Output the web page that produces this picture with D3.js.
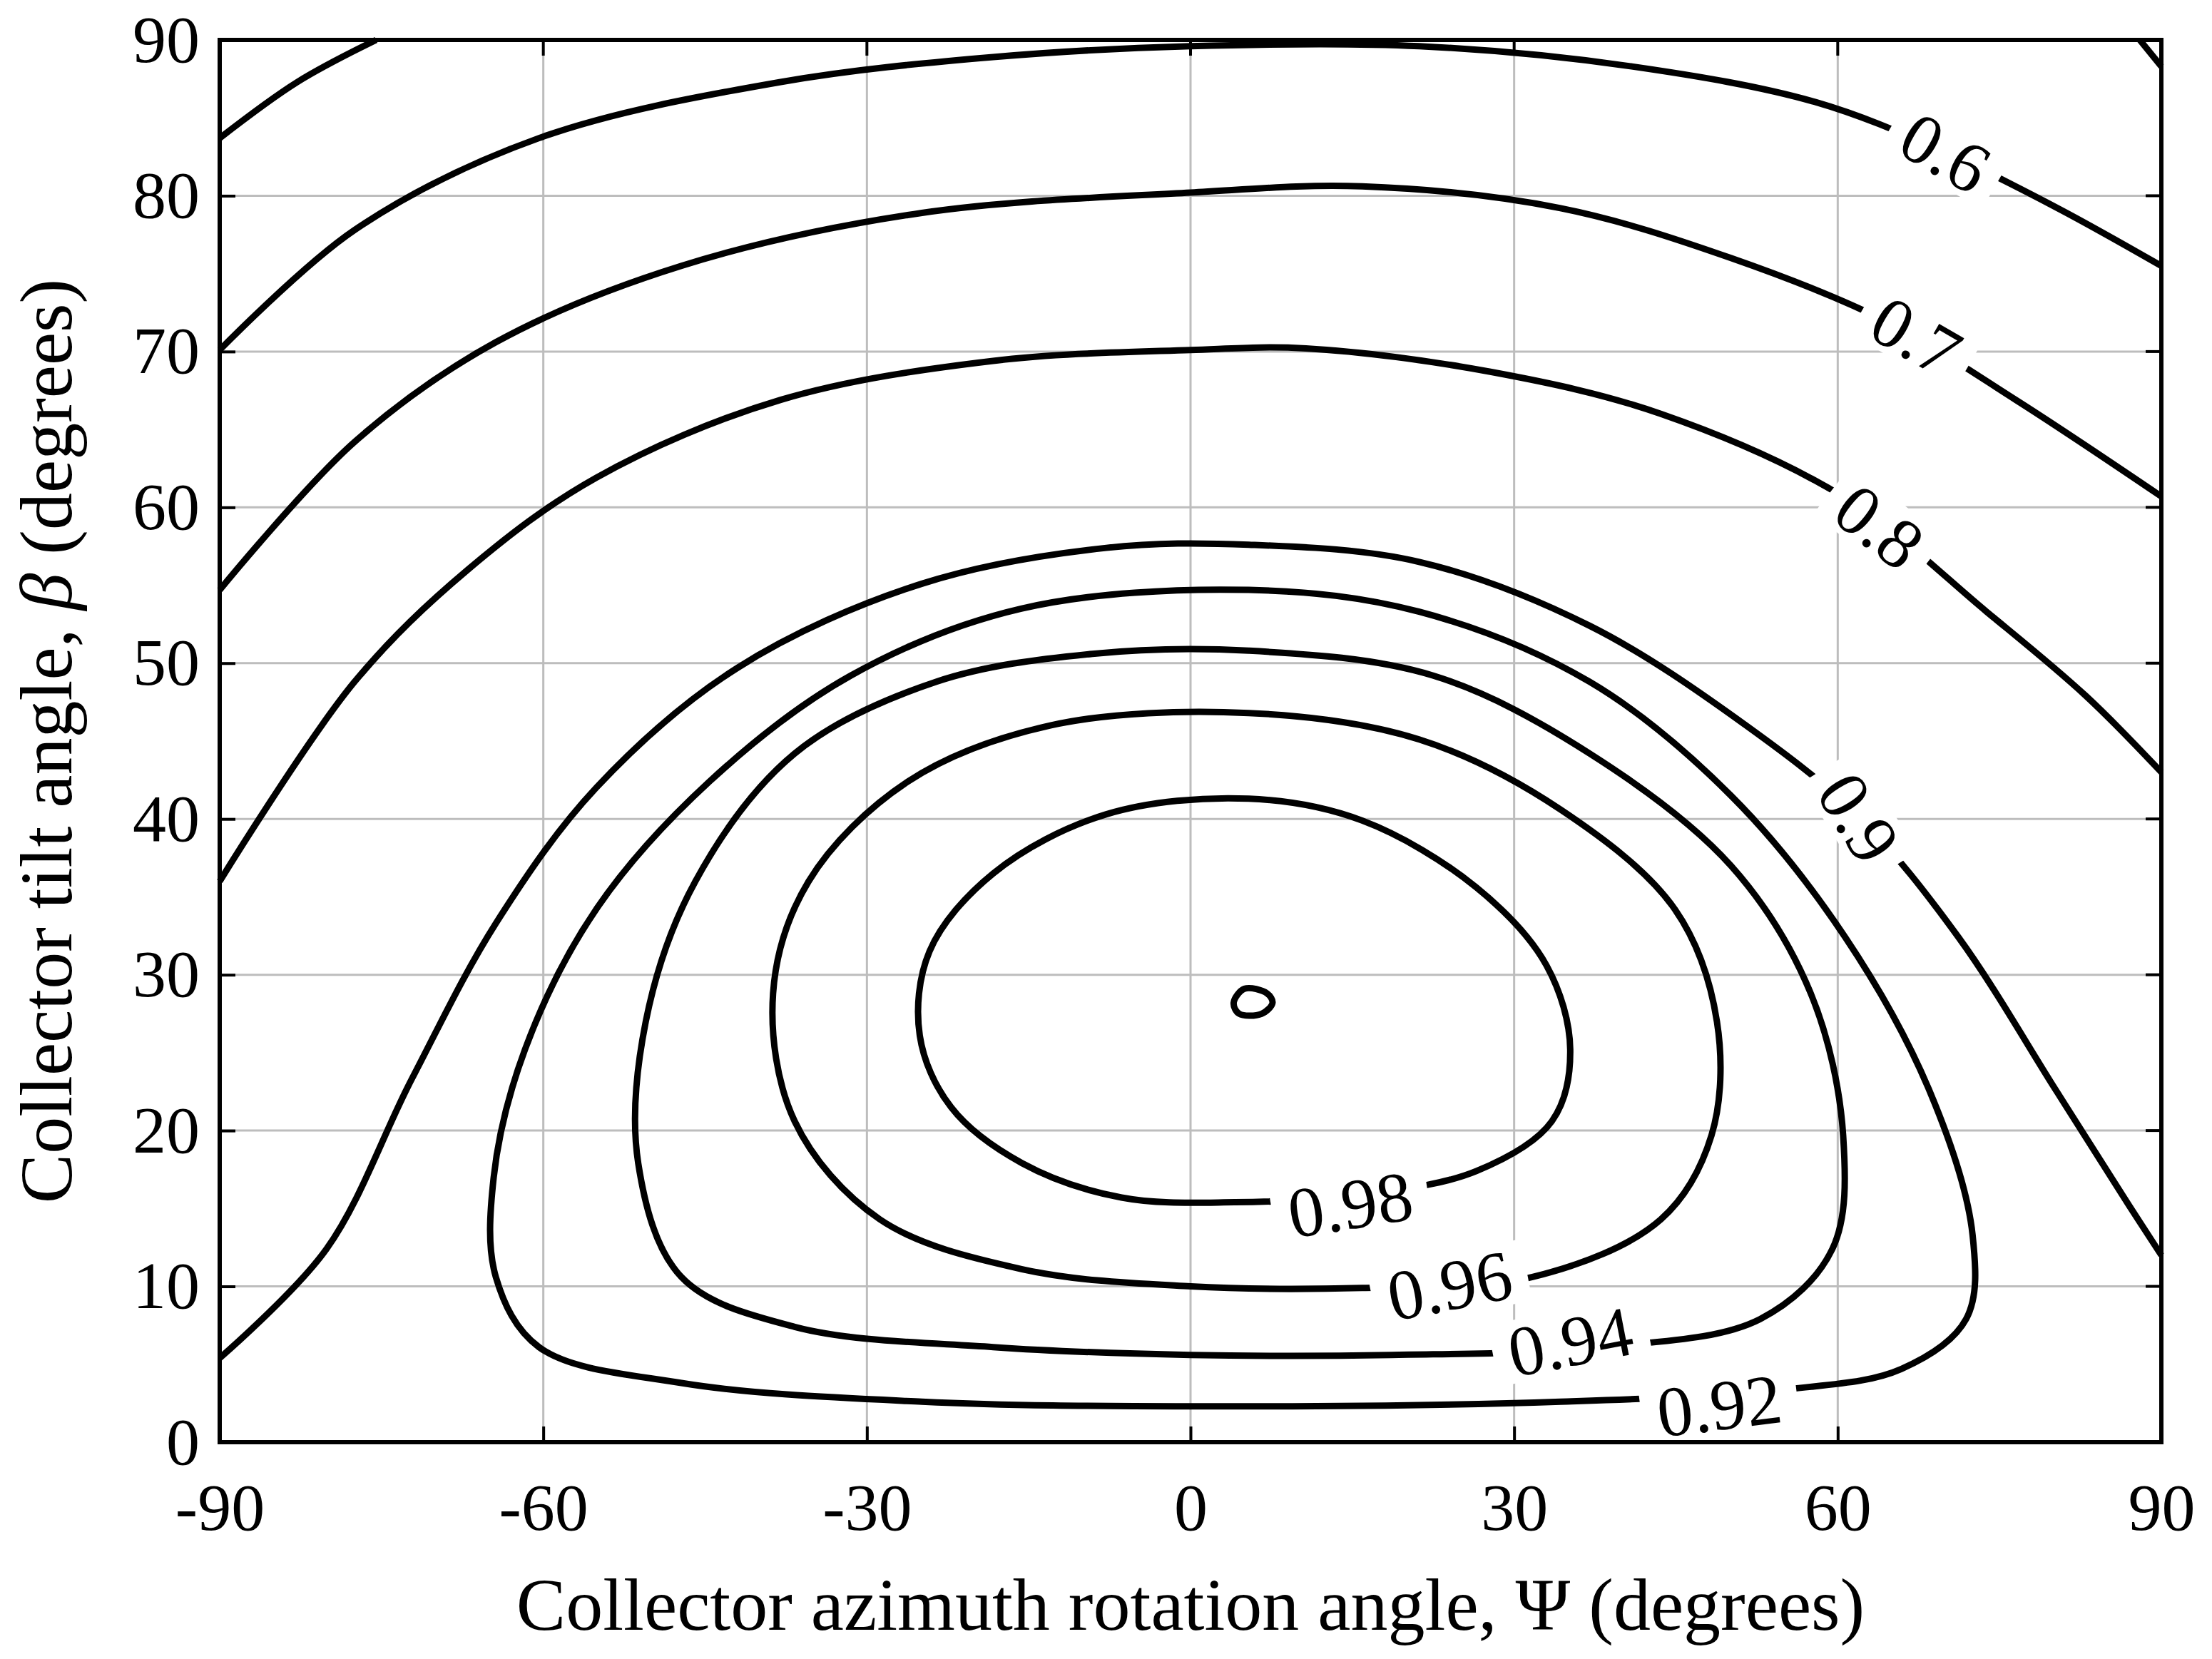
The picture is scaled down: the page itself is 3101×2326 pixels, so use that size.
<!DOCTYPE html>
<html>
<head>
<meta charset="utf-8">
<script src="https://cdn.jsdelivr.net/npm/d3@7"></script>
<style>
body { margin: 0; background: #fff; }
text { font-family: "Liberation Serif", "DejaVu Serif", serif; }
</style>
</head>
<body>
<svg id="chart" width="3101" height="2326"></svg>
<script>
"use strict"

var xTicks = [-90, -60, -30, 0, 30, 60, 90];
var yTicks = [0, 10, 20, 30, 40, 50, 60, 70, 80, 90];

// contour lines: [psi, beta]
var c06 = [[-90,70.1],[-77.5,77.8],[-60.4,83.7],[-38,87.3],[-18.3,88.9],[0,89.6],[21.2,89.6],[40.9,88.3],[58,86],[69.9,82.8],[80.4,79.2],[90,75.5]];
var c06b = [[-90,83.7],[-82.8,87.3],[-75.5,90]];
var c05 = [[88,90],[90,88.3]];
var c07 = [[-90,54.7],[-77.5,64.2],[-64.4,70.6],[-47.2,75.5],[-24.9,78.9],[0,80.2],[15.9,80.6],[34.3,79.2],[50.1,76],[64.6,71.9],[76.5,66.9],[90,60.7]];
var c08 = [[-90,36],[-77.5,48.8],[-67,56],[-55.1,61.9],[-38,66.9],[-18.3,69.4],[0,70.1],[10.7,70.2],[27.8,68.7],[43.6,66],[60.7,60.6],[73.8,53.3],[83,47.9],[90,43]];
var c09 = [[-90,5.4],[-80.1,12.4],[-72.2,23.3],[-64.4,33.3],[-55.1,42],[-42,49.7],[-24.9,55.1],[-7.8,57.4],[5.4,57.6],[21.2,56.5],[37,52.4],[51.5,46],[62,40.1],[71.2,32.4],[80.4,22.4],[87,15.2],[90,12]];
var c092 = [[5.4,54.7],[21.2,53.3],[37,48.8],[50.1,41.5],[60.7,32.4],[68.6,22.4],[72.5,13.3],[71.9,7.9],[65.9,4.7],[55.4,3.4],[34.3,2.6],[0,2.3],[-24.9,2.6],[-47.2,3.8],[-60.4,6.1],[-64.4,10.6],[-64.6,17],[-61.7,25.2],[-55.1,34.2],[-44.6,42.4],[-31.5,49.2],[-15.7,53.5]];
var c094 = [[5.4,50.8],[22.5,49.2],[37,44.2],[50.1,37],[57.5,28.8],[60.5,19.7],[59.5,12.4],[52.8,7.9],[38.3,6.1],[18.6,5.6],[0,5.6],[-18.3,6.1],[-36.7,7.4],[-47.2,10.6],[-51.2,17.9],[-50.5,27],[-45.9,36],[-36.7,44.2],[-23.6,48.8],[-9.1,50.6]];
var c096 = [[5.4,46.8],[21.2,45.1],[34.3,40.6],[44.9,34.2],[48.8,27],[48.3,19.7],[43.6,14.3],[31.7,10.6],[15.9,9.9],[0,10],[-15.6,11.1],[-28.8,14.3],[-36.7,20.6],[-38.7,28.8],[-35.4,36],[-26.2,42.4],[-13,46]];
var c098 = [[5.4,41.3],[15.9,39.9],[26.5,35.6],[33,30.6],[35.2,25.2],[33.5,20.6],[26.5,17.4],[15.9,15.9],[4.1,15.4],[-6.4,15.7],[-15.6,17.9],[-22.2,21.5],[-25.1,26.1],[-24.2,31.5],[-18.3,36.5],[-7.8,40.3]];
var c099 = [[5,29.1],[7.1,28.8],[7.6,28.2],[6.6,27.5],[4.5,27.5],[4,28.2]];

var openLines = [c05, c06, c06b, c07, c08, c09];
var closedLines = [c092, c094, c096, c098, c099];

// label text, [psi, beta], rotation
var labelText = ["0.6", "0.7", "0.8", "0.9", "0.98", "0.96", "0.94", "0.92"];
var labelPos = [[70,82.8],[67.3,71],[63.9,58.8],[62,40.1],[14.8,15.3],[24,10.1],[35.2,6.5],[49,2.4]];
var labelRot = [30, 30, 38, 58, -9, -11, -11, -7];

var svg = d3.select("#chart");
var mLeft = 308, mRight = 3030, mTop = 56, mBottom = 2022;

var x = d3.scaleLinear().domain([-90, 90]).range([mLeft, mRight]);
var y = d3.scaleLinear().domain([0, 90]).range([mBottom, mTop]);

// grid
svg.append("g").selectAll("line").data(xTicks).enter().append("line")
    .attr("x1", d => x(d)).attr("x2", d => x(d))
    .attr("y1", mTop).attr("y2", mBottom)
    .attr("stroke", "#bdbdbd").attr("stroke-width", 3);
svg.append("g").selectAll("line").data(yTicks).enter().append("line")
    .attr("y1", d => y(d)).attr("y2", d => y(d))
    .attr("x1", mLeft).attr("x2", mRight)
    .attr("stroke", "#bdbdbd").attr("stroke-width", 3);

var lineOpen = d3.line().x(d => x(d[0])).y(d => y(d[1])).curve(d3.curveCatmullRom);
var lineClosed = d3.line().x(d => x(d[0])).y(d => y(d[1])).curve(d3.curveCatmullRomClosed);

var g = svg.append("g");
g.selectAll("path.o").data(openLines).enter().append("path")
    .attr("class", "o")
    .attr("d", lineOpen).attr("fill", "none")
    .attr("stroke", "#000").attr("stroke-width", 9);
g.selectAll("path.c").data(closedLines).enter().append("path")
    .attr("class", "c")
    .attr("d", lineClosed).attr("fill", "none")
    .attr("stroke", "#000").attr("stroke-width", 9);

// contour labels
var lab = svg.append("g").selectAll("g").data(labelText).enter().append("g")
    .attr("transform", (d, i) => "translate(" + x(labelPos[i][0]) + "," + y(labelPos[i][1]) + ") rotate(" + labelRot[i] + ")");
lab.append("rect")
    .attr("x", d => -d.length * 26 - 6).attr("y", -44)
    .attr("width", d => d.length * 52 + 12).attr("height", 88)
    .attr("fill", "#fff");
lab.append("text").text(d => d)
    .attr("text-anchor", "middle").attr("dy", "0.35em")
    .attr("font-size", 100);

// axes
var xAxis = d3.axisBottom(x).tickValues(xTicks).tickSize(-22).tickPadding(56)
    .tickFormat(d => String(d));
var yAxis = d3.axisLeft(y).tickValues(yTicks).tickSize(-22).tickPadding(28);
var ax = svg.append("g").attr("transform", "translate(0," + mBottom + ")").call(xAxis);
var ay = svg.append("g").attr("transform", "translate(" + mLeft + ",0)").call(yAxis);
[ax, ay].forEach(function(a) {
    a.select(".domain").remove();
    a.selectAll("line").attr("stroke", "#000").attr("stroke-width", 4);
    a.selectAll("text").attr("font-size", 94).attr("fill", "#000")
        .style("font-family", "'Liberation Serif', serif");
});
svg.append("g").selectAll("line").data(xTicks).enter().append("line")
    .attr("x1", d => x(d)).attr("x2", d => x(d))
    .attr("y1", mTop).attr("y2", mTop + 22)
    .attr("stroke", "#000").attr("stroke-width", 4);
svg.append("g").selectAll("line").data(yTicks).enter().append("line")
    .attr("y1", d => y(d)).attr("y2", d => y(d))
    .attr("x1", mRight).attr("x2", mRight - 22)
    .attr("stroke", "#000").attr("stroke-width", 4);

svg.append("rect").attr("x", mLeft).attr("y", mTop)
    .attr("width", mRight - mLeft).attr("height", mBottom - mTop)
    .attr("fill", "none").attr("stroke", "#000").attr("stroke-width", 6);

// titles
var xt = svg.append("text").attr("x", (mLeft + mRight) / 2).attr("y", 2285)
    .attr("text-anchor", "middle").attr("font-size", 104);
xt.append("tspan").text("Collector azimuth rotation angle, Ψ (degrees)");

var yt = svg.append("text").attr("transform", "translate(100," + (mTop + mBottom) / 2 + ") rotate(-90)")
    .attr("text-anchor", "middle").attr("font-size", 104);
yt.append("tspan").text("Collector tilt angle, ");
yt.append("tspan").attr("font-style", "italic").text("β");
yt.append("tspan").text(" (degrees)");
</script>
</body>
</html>
